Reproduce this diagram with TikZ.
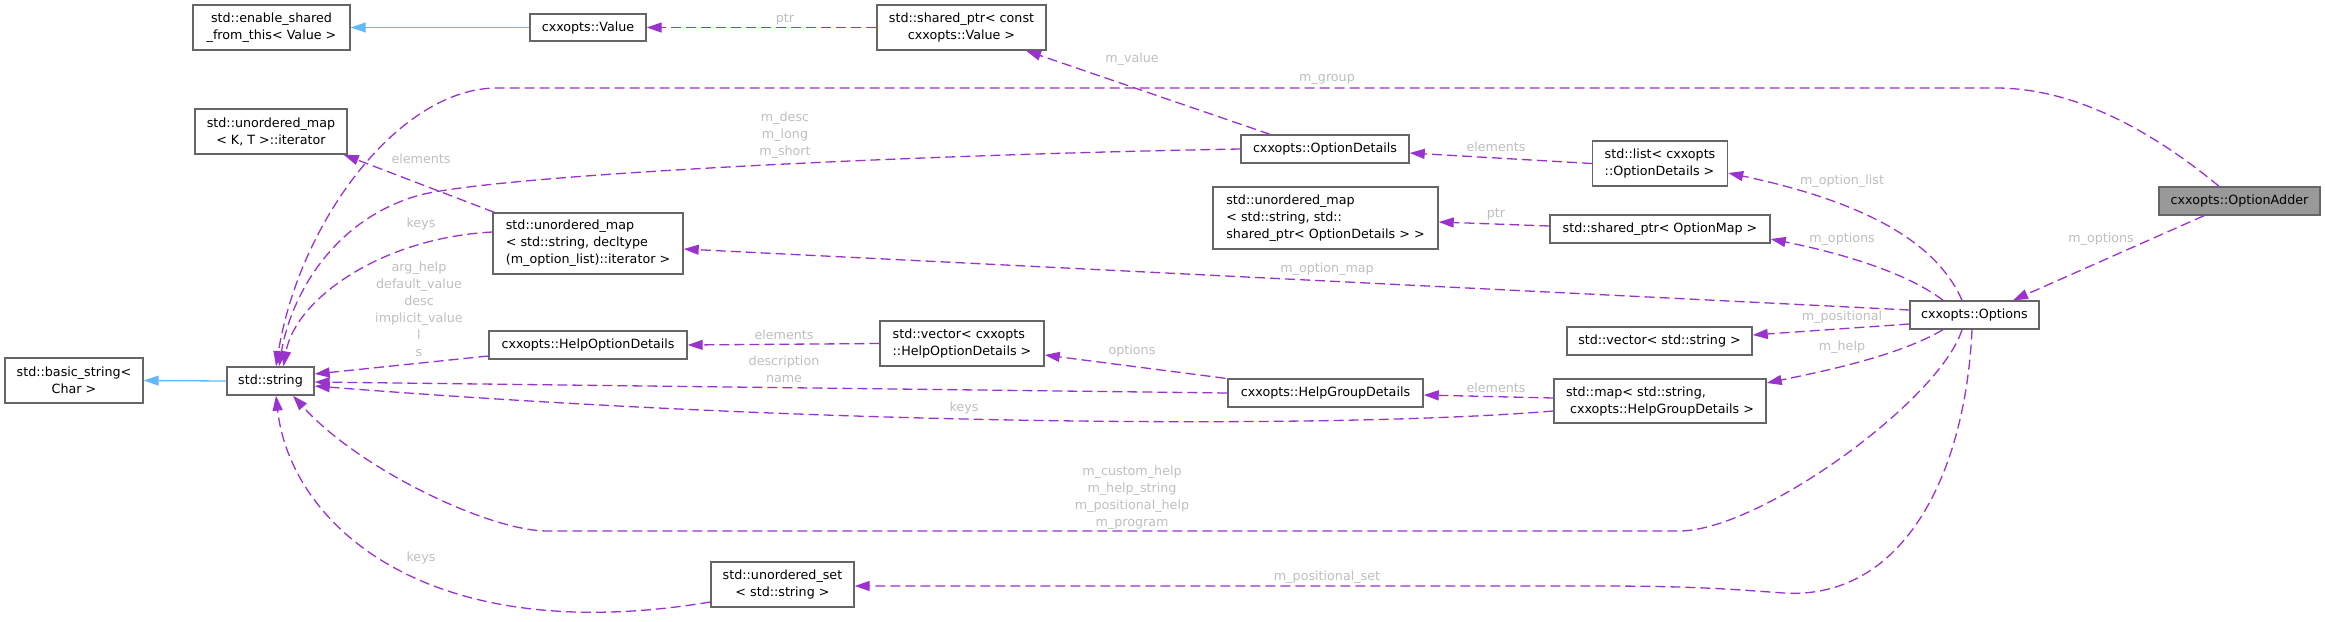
\documentclass[tikz,border=0pt]{standalone}
\usepackage{fontspec}
\setmainfont{DejaVu Sans}
\usetikzlibrary{arrows.meta}
\definecolor{usecol}{HTML}{9A32CD}
\definecolor{inhcol}{HTML}{63B8FF}
\definecolor{bordcol}{HTML}{666666}
\definecolor{lblcol}{HTML}{BEBEBE}
\definecolor{maincol}{HTML}{999999}
\begin{document}
\begin{tikzpicture}[x=1pt,y=-1pt,
  font=\fontsize{12.7}{17}\selectfont,
  cls/.style={draw=bordcol,line width=1.4pt,fill=white,inner sep=0pt,text=black},
  use/.style={draw=usecol,line width=1.3pt,dash pattern=on 10pt off 5pt,
    -{Triangle[length=15pt,width=10pt,fill=usecol]}},
  inh/.style={draw=inhcol,line width=1.3pt,
    -{Triangle[length=15pt,width=10pt,fill=inhcol]}},
  lbl/.style={text=lblcol,inner sep=0pt,align=center}]
\useasboundingbox (0,0) rectangle (2325,621);
% box helper: centre and size
\node[cls,minimum width=157pt,minimum height=45pt,align=center] (enable) at (271.5,27.5) {std::enable\_shared\\\_from\_this< Value >};
\node[cls,minimum width=116pt,minimum height=27pt] (value) at (588,27.5) {cxxopts::Value};
\node[cls,minimum width=169pt,minimum height=45pt,align=center] (shval) at (961.5,27.5) {std::shared\_ptr< const\\cxxopts::Value >};
\node[cls,minimum width=152pt,minimum height=45pt,align=center] (iterkt) at (271,131.5) {std::unordered\_map\\< K, T >::iterator};
\node[cls,minimum width=190pt,minimum height=61pt,align=left] (declmap) at (588,243.5) {std::unordered\_map\\< std::string, decltype\\(m\_option\_list)::iterator >};
\node[cls,minimum width=168pt,minimum height=28pt] (optdet) at (1325,149) {cxxopts::OptionDetails};
\node[cls,minimum width=225pt,minimum height=62pt,align=left] (umapod) at (1325.5,218) {std::unordered\_map\\< std::string, std::\\shared\_ptr< OptionDetails > >};
\node[cls,minimum width=135pt,minimum height=45pt,align=left] (list) at (1660,163.5) {std::list< cxxopts\\::OptionDetails >};
\node[cls,minimum width=220pt,minimum height=28pt] (shmap) at (1660,229) {std::shared\_ptr< OptionMap >};
\node[cls,fill=maincol,minimum width=161pt,minimum height=28pt] (adder) at (2239.5,201) {cxxopts::OptionAdder};
\node[cls,minimum width=129pt,minimum height=28pt] (opts) at (1974.5,315) {cxxopts::Options};
\node[cls,minimum width=185pt,minimum height=28pt] (vecstr) at (1659.5,341) {std::vector< std::string >};
\node[cls,minimum width=212pt,minimum height=44pt,align=left] (maphgd) at (1660,401) {std::map< std::string,\\\ cxxopts::HelpGroupDetails >};
\node[cls,minimum width=138pt,minimum height=45pt,align=center] (basic) at (74,380.5) {std::basic\_string<\\Char >};
\node[cls,minimum width=87pt,minimum height=28pt] (str) at (270.5,381) {std::string};
\node[cls,minimum width=198pt,minimum height=28pt] (hod) at (588,345) {cxxopts::HelpOptionDetails};
\node[cls,minimum width=164pt,minimum height=45pt,align=left] (vechod) at (962,343.5) {std::vector< cxxopts\\::HelpOptionDetails >};
\node[cls,minimum width=195pt,minimum height=28pt] (hgd) at (1325.5,393) {cxxopts::HelpGroupDetails};
\node[cls,minimum width=143pt,minimum height=45pt,align=center] (uset) at (782.5,584.5) {std::unordered\_set\\< std::string >};
% inheritance
\draw[inh] (value.west) -- (enable.east);
\draw[inh] (str.west) -- (basic.east);
% usage edges
\draw[use] (shval.west) -- (value.east) node[lbl] at (785,19) {ptr};
\draw[use] ([xshift=-55pt]optdet.north) -- ([xshift=64.5pt]shval.south) node[lbl] at (1132,59) {m\_value};
\draw[use] ([xshift=-20.5pt]adder.north) .. controls (2175,150) and (2090,88) .. (1996,88) -- (497,88) .. controls (400,88) and (300,220) .. ([xshift=5.5pt]str.north) node[lbl] at (1327,79) {m\_group};
\draw[use] (optdet.west) .. controls (900,155) and (500,175) .. (420,195) .. controls (330,220) and (290,300) .. ([xshift=8.5pt]str.north) node[lbl] at (785,135) {m\_desc\\m\_long\\m\_short};
\draw[use] (list.west) -- ([yshift=-4pt]optdet.east) node[lbl] at (1496,147) {elements};
\draw[use] ([xshift=-12.5pt]opts.north) .. controls (1940,250) and (1880,205) .. ([yshift=-9.5pt]list.east) node[lbl] at (1842,181) {m\_option\_list};
\draw[use] ([xshift=-31.5pt]opts.north) .. controls (1910,275) and (1850,255) .. ([yshift=-10pt]shmap.east) node[lbl] at (1842,239) {m\_options};
\draw[use] ([xshift=-35.5pt]adder.south) -- ([xshift=38.5pt]opts.north) node[lbl] at (2101,239) {m\_options};
\draw[use] ([yshift=3pt]shmap.west) -- ([yshift=-4pt]umapod.east) node[lbl] at (1496,214) {ptr};
\draw[use] ([yshift=5pt]opts.west) -- ([yshift=-5.5pt]declmap.east) node[lbl] at (1327,269) {m\_option\_map};
\draw[use] ([xshift=2pt]declmap.north west) -- ([xshift=-4pt]iterkt.south east) node[lbl] at (421,159) {elements};
\draw[use] ([yshift=11.5pt]declmap.west) .. controls (380,238) and (295,300) .. ([xshift=13pt]str.north) node[lbl] at (421,224) {keys};
\draw[use] ([yshift=-11pt]hod.west) -- ([yshift=7pt]str.east) node[lbl] at (419,309) {arg\_help\\default\_value\\desc\\implicit\_value\\l\\s};
\draw[use] (vechod.west) -- (hod.east) node[lbl] at (784,335) {elements};
\draw[use] ([xshift=-2pt]hgd.north west) -- ([yshift=-11.5pt]vechod.east) node[lbl] at (1132,351) {options};
\draw[use] (hgd.west) -- ([yshift=-1pt]str.east) node[lbl] at (784,369) {description\\name};
\draw[use] ([yshift=3pt]maphgd.west) -- ([yshift=-2pt]hgd.east) node[lbl] at (1496,388) {elements};
\draw[use] ([yshift=-10pt]maphgd.west) .. controls (1350,428) and (850,428) .. ([yshift=-5pt]str.east) node[lbl] at (964,408) {keys};
\draw[use] ([yshift=-9pt]opts.west) -- ([yshift=6pt]vecstr.east) node[lbl] at (1842,317) {m\_positional};
\draw[use] ([xshift=-31.5pt]opts.south) .. controls (1900,355) and (1830,370) .. ([yshift=18pt]maphgd.east) node[lbl] at (1842,347) {m\_help};
\draw[use] ([xshift=-12.5pt]opts.south) .. controls (1940,400) and (1760,531) .. (1679,531) -- (547,531) .. controls (490,531) and (360,470) .. ([xshift=22.5pt]str.south) node[lbl] at (1132,497.5) {m\_custom\_help\\m\_help\_string\\m\_positional\_help\\m\_program};
\draw[use] ([xshift=-2.5pt]opts.south) .. controls (1965,480) and (1900,600) .. (1784,593) .. controls (1740,590) and (1700,586) .. (1600,586) -- ([yshift=-1.5pt]uset.east) node[lbl] at (1327,577) {m\_positional\_set};
\draw[use] ([yshift=-17.5pt]uset.west) .. controls (420,650) and (290,520) .. ([xshift=5.5pt]str.south) node[lbl] at (421,558) {keys};
\end{tikzpicture}
\end{document}
